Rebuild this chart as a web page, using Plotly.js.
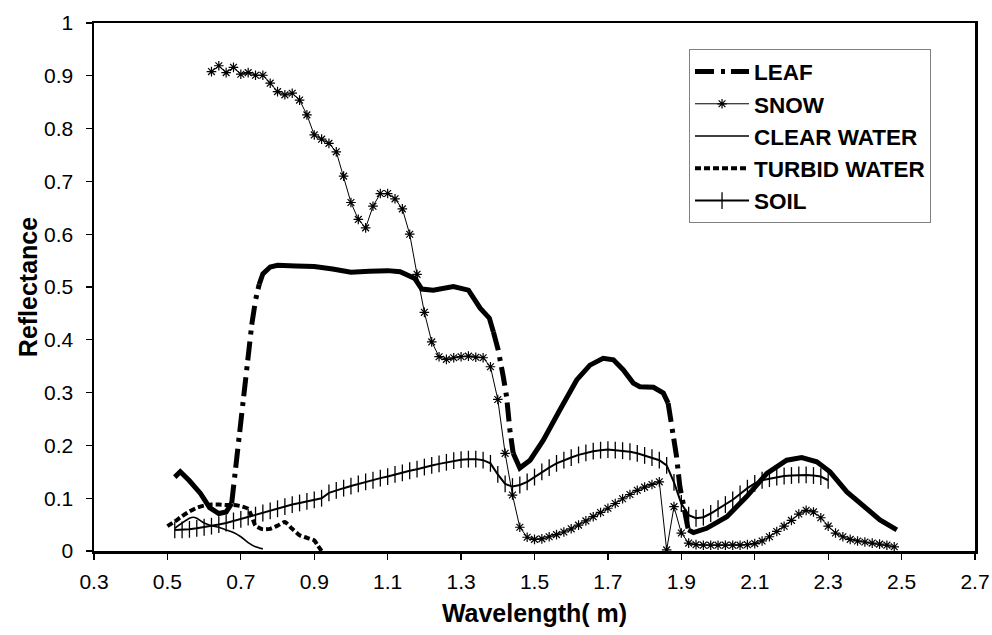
<!DOCTYPE html>
<html><head><meta charset="utf-8">
<script src="https://cdn.plot.ly/plotly-3.0.1.min.js"></script>
<style>html,body{margin:0;padding:0;background:#fff}#chart{width:992px;height:635px}</style>
</head><body><div id="chart"></div>
<script>
// ---- tick labels ----
const xTickVals = [0.3,0.5,0.7,0.9,1.1,1.3,1.5,1.7,1.9,2.1,2.3,2.5,2.7];
const xTickText = ['0.3','0.5','0.7','0.9','1.1','1.3','1.5','1.7','1.9','2.1','2.3','2.5','2.7'];
const yTickVals = [0,0.1,0.2,0.3,0.4,0.5,0.6,0.7,0.8,0.9,1];
const yTickText = ['0','0.1','0.2','0.3','0.4','0.5','0.6','0.7','0.8','0.9','1'];

// ---- series names ----
const seriesNames = ['LEAF','SNOW','CLEAR WATER','TURBID WATER','SOIL'];

// ---- LEAF ----
const leafX = [0.52,0.535,0.56,0.59,0.615,0.64,0.66,0.675,0.69,0.70,0.71,0.72,0.73,0.74,0.75,0.76,0.78,0.80,0.85,0.90,0.95,1.00,1.05,1.10,1.134,1.174,1.193,1.224,1.279,1.32,1.352,1.377,1.388,1.401,1.415,1.424,1.433,1.442,1.46,1.488,1.524,1.569,1.615,1.651,1.687,1.715,1.742,1.769,1.787,1.824,1.851,1.864,1.869,1.876,1.887,1.896,1.910,1.919,1.933,1.969,2.024,2.078,2.133,2.187,2.228,2.269,2.305,2.351,2.396,2.441,2.487];
const leafY = [0.140,0.150,0.133,0.109,0.082,0.071,0.074,0.090,0.185,0.250,0.310,0.370,0.430,0.475,0.505,0.525,0.538,0.541,0.540,0.539,0.534,0.528,0.530,0.531,0.529,0.516,0.496,0.494,0.501,0.494,0.460,0.441,0.415,0.381,0.330,0.292,0.229,0.185,0.157,0.172,0.210,0.267,0.324,0.352,0.365,0.362,0.343,0.318,0.311,0.310,0.299,0.280,0.258,0.235,0.179,0.122,0.078,0.040,0.035,0.043,0.065,0.103,0.147,0.172,0.177,0.169,0.150,0.112,0.084,0.059,0.040];

// ---- SNOW ----
const snowX = [0.62,0.64,0.66,0.68,0.70,0.72,0.74,0.76,0.78,0.80,0.82,0.84,0.86,0.88,0.90,0.92,0.94,0.96,0.98,1.00,1.02,1.04,1.06,1.08,1.10,1.12,1.14,1.16,1.18,1.20,1.22,1.24,1.26,1.28,1.30,1.32,1.34,1.36,1.38,1.40,1.42,1.44,1.46,1.48,1.50,1.52,1.54,1.56,1.58,1.60,1.62,1.64,1.66,1.68,1.70,1.72,1.74,1.76,1.78,1.80,1.82,1.84,1.86,1.88,1.90,1.92,1.94,1.96,1.98,2.00,2.02,2.04,2.06,2.08,2.10,2.12,2.14,2.16,2.18,2.20,2.22,2.24,2.26,2.28,2.30,2.32,2.34,2.36,2.38,2.40,2.42,2.44,2.46,2.48];
const snowY = [0.908,0.919,0.906,0.916,0.903,0.906,0.901,0.901,0.886,0.870,0.864,0.867,0.854,0.826,0.788,0.780,0.772,0.756,0.710,0.660,0.628,0.612,0.653,0.677,0.677,0.667,0.648,0.600,0.524,0.452,0.396,0.368,0.363,0.366,0.368,0.369,0.367,0.366,0.349,0.287,0.185,0.106,0.045,0.026,0.022,0.023,0.027,0.031,0.036,0.042,0.049,0.057,0.065,0.073,0.081,0.090,0.099,0.107,0.115,0.121,0.126,0.131,0.002,0.084,0.034,0.015,0.012,0.011,0.011,0.011,0.011,0.011,0.011,0.012,0.014,0.019,0.027,0.037,0.047,0.058,0.070,0.077,0.074,0.063,0.047,0.034,0.027,0.022,0.019,0.017,0.015,0.013,0.011,0.008];

// ---- CLEAR WATER ----
const clearX = [0.52,0.54,0.56,0.57,0.58,0.60,0.62,0.64,0.66,0.68,0.70,0.72,0.74,0.76];
const clearY = [0.043,0.053,0.062,0.064,0.062,0.053,0.048,0.045,0.040,0.035,0.027,0.016,0.008,0.004];

// ---- TURBID WATER ----
const turbidX = [0.50,0.52,0.54,0.56,0.58,0.60,0.62,0.64,0.66,0.68,0.70,0.72,0.73,0.74,0.76,0.78,0.80,0.82,0.84,0.86,0.88,0.90,0.91,0.92];
const turbidY = [0.047,0.056,0.066,0.075,0.082,0.086,0.088,0.088,0.087,0.087,0.085,0.080,0.065,0.048,0.041,0.042,0.048,0.055,0.042,0.030,0.025,0.020,0.010,0.000];

// ---- SOIL ----
const soilX = [0.52,0.54,0.56,0.58,0.60,0.62,0.64,0.66,0.68,0.70,0.72,0.74,0.76,0.78,0.80,0.82,0.84,0.86,0.88,0.90,0.92,0.94,0.96,0.98,1.00,1.02,1.04,1.06,1.08,1.10,1.12,1.14,1.16,1.18,1.20,1.22,1.24,1.26,1.28,1.30,1.32,1.34,1.36,1.38,1.40,1.42,1.44,1.46,1.48,1.50,1.52,1.54,1.56,1.58,1.60,1.62,1.64,1.66,1.68,1.70,1.72,1.74,1.76,1.78,1.80,1.82,1.84,1.86,1.88,1.90,1.92,1.94,1.96,1.98,2.00,2.02,2.04,2.06,2.08,2.10,2.12,2.14,2.16,2.18,2.20,2.22,2.24,2.26,2.28,2.30];
const soilY = [0.040,0.040,0.041,0.043,0.045,0.047,0.050,0.053,0.057,0.060,0.064,0.068,0.072,0.076,0.080,0.084,0.088,0.091,0.094,0.097,0.100,0.110,0.115,0.119,0.123,0.127,0.131,0.134,0.138,0.141,0.145,0.148,0.152,0.155,0.159,0.162,0.165,0.168,0.171,0.173,0.174,0.174,0.172,0.166,0.145,0.127,0.122,0.125,0.131,0.140,0.150,0.158,0.166,0.172,0.177,0.182,0.186,0.189,0.191,0.192,0.191,0.190,0.188,0.185,0.181,0.177,0.172,0.162,0.130,0.090,0.068,0.062,0.064,0.071,0.080,0.088,0.097,0.108,0.119,0.128,0.134,0.137,0.140,0.142,0.143,0.144,0.144,0.143,0.141,0.134];

const FONT = 'Liberation Sans, Arial, Helvetica, sans-serif';
const BLACK = '#000000';
const traces = [];

// LEAF: Excel-like look, solid where the curve is flat, dash-dot where it is steep
const STEEP = 2.5;
const groups = [];
for (let i = 0; i < leafX.length - 1; i++) {
  const s = Math.abs((leafY[i+1] - leafY[i]) / (leafX[i+1] - leafX[i]));
  const steep = s > STEEP;
  const last = groups[groups.length - 1];
  if (last && last.steep === steep) last.end = i + 1;
  else groups.push({steep: steep, start: i, end: i + 1});
}
let leafLegend = false;
groups.forEach(g => {
  const show = g.steep && !leafLegend;
  if (show) leafLegend = true;
  traces.push({
    type: 'scatter', mode: 'lines', name: seriesNames[0],
    x: leafX.slice(g.start, g.end + 1), y: leafY.slice(g.start, g.end + 1),
    legendgroup: 'leaf', legendrank: 1, showlegend: show,
    line: {color: BLACK, width: 5, dash: g.steep ? '19px,7px,4px,6px' : 'solid'},
    hoverinfo: 'skip'
  });
});

traces.push({
  type: 'scatter', mode: 'lines+markers', name: seriesNames[1],
  x: snowX, y: snowY, legendrank: 2,
  line: {color: BLACK, width: 1},
  marker: {symbol: 'asterisk-open', size: 8, color: BLACK, line: {color: BLACK, width: 1.2}}
});
traces.push({
  type: 'scatter', mode: 'lines', name: seriesNames[2],
  x: clearX, y: clearY, legendrank: 3,
  line: {color: BLACK, width: 1.6, shape: 'spline', smoothing: 0.6}
});
traces.push({
  type: 'scatter', mode: 'lines', name: seriesNames[3],
  x: turbidX, y: turbidY, legendrank: 4,
  line: {color: BLACK, width: 4, dash: '6px,3px', shape: 'spline', smoothing: 0.5}
});
traces.push({
  type: 'scatter', mode: 'lines+markers', name: seriesNames[4],
  x: soilX, y: soilY, legendrank: 5,
  line: {color: BLACK, width: 2},
  marker: {symbol: 'line-ns-open', size: 12, color: BLACK, line: {color: BLACK, width: 1.3}}
});

const tickFont = {family: FONT, size: 21, color: BLACK};
const titleFont = {family: FONT, size: 25, color: BLACK, weight: 'bold'};

const layout = {
  width: 992, height: 635,
  margin: {l: 94, r: 17, t: 23, b: 84, pad: 0},
  paper_bgcolor: '#ffffff', plot_bgcolor: '#ffffff',
  showlegend: true,
  legend: {
    x: 0.6754, y: 0.95, xanchor: 'left', yanchor: 'top',
    bgcolor: '#ffffff', bordercolor: '#808080', borderwidth: 1,
    font: {family: FONT, size: 22.5, color: BLACK, weight: 'bold'},
    tracegroupgap: 0, itemwidth: 54
  },
  xaxis: {
    range: [0.3, 2.7], tickmode: 'array', tickvals: xTickVals, ticktext: xTickText,
    ticks: 'outside', ticklen: 6, tickwidth: 1.3, tickcolor: BLACK,
    showline: true, linewidth: 2.5, linecolor: BLACK, mirror: true,
    showgrid: false, zeroline: false, automargin: false,
    tickfont: tickFont, ticklabelstandoff: 4,
    title: {text: 'Wavelength( m)', font: titleFont, standoff: 13}
  },
  yaxis: {
    range: [0, 1], tickmode: 'array', tickvals: yTickVals, ticktext: yTickText,
    ticks: 'outside', ticklen: 6, tickwidth: 1.3, tickcolor: BLACK,
    showline: true, linewidth: 2.5, linecolor: BLACK, mirror: true,
    showgrid: false, zeroline: false, automargin: false,
    tickfont: tickFont, ticklabelstandoff: 8,
    title: {text: 'Reflectance', font: titleFont, standoff: 0}
  },
  xaxis2: {
    overlaying: 'x', anchor: 'y', side: 'bottom', range: [0.3, 2.7],
    tickmode: 'array', tickvals: xTickVals, ticks: 'inside', ticklen: 5, tickwidth: 1.3, tickcolor: BLACK,
    showticklabels: false, showline: false, showgrid: false, zeroline: false
  },
  yaxis2: {
    overlaying: 'y', anchor: 'x', side: 'left', range: [0, 1],
    tickmode: 'array', tickvals: yTickVals, ticks: 'inside', ticklen: 5, tickwidth: 1.3, tickcolor: BLACK,
    showticklabels: false, showline: false, showgrid: false, zeroline: false
  }
};

Plotly.newPlot('chart', traces, layout, {staticPlot: true, displayModeBar: false});
</script>
</body></html>
